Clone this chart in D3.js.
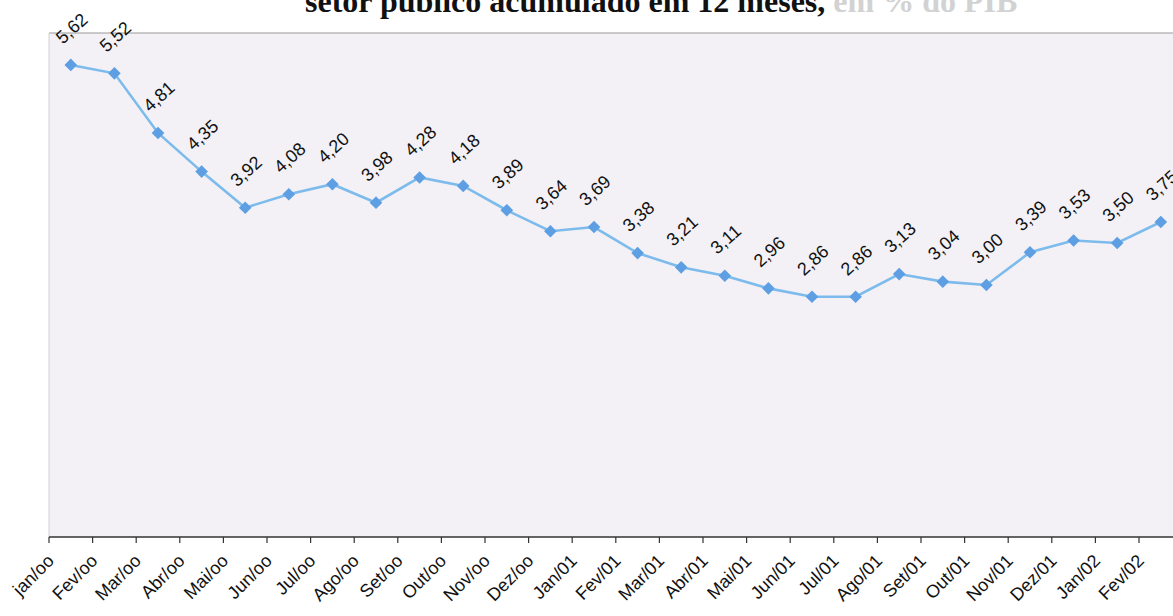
<!DOCTYPE html>
<html>
<head>
<meta charset="utf-8">
<script src="https://cdn.jsdelivr.net/npm/d3@7"></script>
<style>
  html, body { margin: 0; padding: 0; background: #ffffff; }
  svg { display: block; }
</style>
</head>
<body>
<svg id="chart" width="1173" height="616"></svg>
<script>
const categories = ["jan/oo","Fev/oo","Mar/oo","Abr/oo","Mai/oo","Jun/oo","Jul/oo","Ago/oo","Set/oo","Out/oo","Nov/oo","Dez/oo","Jan/01","Fev/01","Mar/01","Abr/01","Mai/01","Jun/01","Jul/01","Ago/01","Set/01","Out/01","Nov/01","Dez/01","Jan/02","Fev/02"];
const values = [5.62,5.52,4.81,4.35,3.92,4.08,4.20,3.98,4.28,4.18,3.89,3.64,3.69,3.38,3.21,3.11,2.96,2.86,2.86,3.13,3.04,3.00,3.39,3.53,3.50,3.75];
const titleMain = "setor público acumulado em 12 meses,";
const titleFaint = " em % do PIB";

const svg = d3.select("#chart");
const pLeft = 49, pTop = 33, pBottom = 537, step = 43.6;
const x = d3.scaleBand().domain(categories).range([pLeft, pLeft + categories.length * step]).padding(0);
const y = d3.scaleLinear().domain([0, 6]).range([pBottom, pTop]);
const fmt = v => v.toFixed(2).replace(".", ",");
const cx = i => x(categories[i]) + x.bandwidth() / 2;

// title (cut at top, as in the scanned source)
const t = svg.append("text").attr("x", 305).attr("y", 12)
  .attr("font-family", "Liberation Serif, Times New Roman, serif")
  .attr("font-weight", "bold").attr("font-size", 32).attr("fill", "#111");
t.append("tspan").text(titleMain);
t.append("tspan").attr("fill", "#d2d2d2").text(titleFaint);

// plot area
svg.append("rect").attr("x", pLeft).attr("y", pTop)
  .attr("width", x.range()[1] - pLeft).attr("height", pBottom - pTop)
  .attr("fill", "#f3f1f6");
svg.append("line").attr("x1", pLeft).attr("x2", 1173).attr("y1", pTop).attr("y2", pTop)
  .attr("stroke", "#9a9a9a").attr("stroke-width", 1.2);
svg.append("line").attr("x1", pLeft).attr("x2", pLeft).attr("y1", pTop).attr("y2", pBottom)
  .attr("stroke", "#d2d2d2").attr("stroke-width", 1);

// x axis
const ax = svg.append("g");
ax.append("line").attr("x1", pLeft).attr("x2", 1173).attr("y1", pBottom).attr("y2", pBottom)
  .attr("stroke", "#333").attr("stroke-width", 1.3);
const tickPos = categories.map(c => x(c));
ax.selectAll("line.tick").data(tickPos).join("line").attr("class", "tick")
  .attr("x1", d => d).attr("x2", d => d).attr("y1", pBottom).attr("y2", pBottom + 6)
  .attr("stroke", "#333").attr("stroke-width", 1.2);
ax.selectAll("text").data(categories).join("text")
  .attr("transform", c => `translate(${x(c) + 6},${pBottom + 25}) rotate(-45)`)
  .attr("text-anchor", "end")
  .attr("font-family", "Liberation Sans, Arial, sans-serif")
  .attr("font-size", 18).attr("fill", "#111")
  .text(c => c);

// line
const line = d3.line().x((d, i) => cx(i)).y(d => y(d));
svg.append("path").datum(values).attr("d", line)
  .attr("fill", "none").attr("stroke", "#7cbbec").attr("stroke-width", 2.6);

// markers (square diamonds)
svg.selectAll("path.mk").data(values).join("path").attr("class", "mk")
  .attr("d", d3.symbol().type(d3.symbolSquare).size(80))
  .attr("transform", (d, i) => `translate(${cx(i)},${y(d)}) rotate(45)`)
  .attr("fill", "#5e9fe3");

// data labels
svg.selectAll("text.lbl").data(values).join("text").attr("class", "lbl")
  .attr("transform", (d, i) => `translate(${cx(i) + 5},${y(d) - 32}) rotate(-42)`)
  .attr("text-anchor", "middle")
  .attr("font-family", "Liberation Sans, Arial, sans-serif")
  .attr("font-size", 18).attr("fill", "#111")
  .text(d => fmt(d));
</script>
</body>
</html>
